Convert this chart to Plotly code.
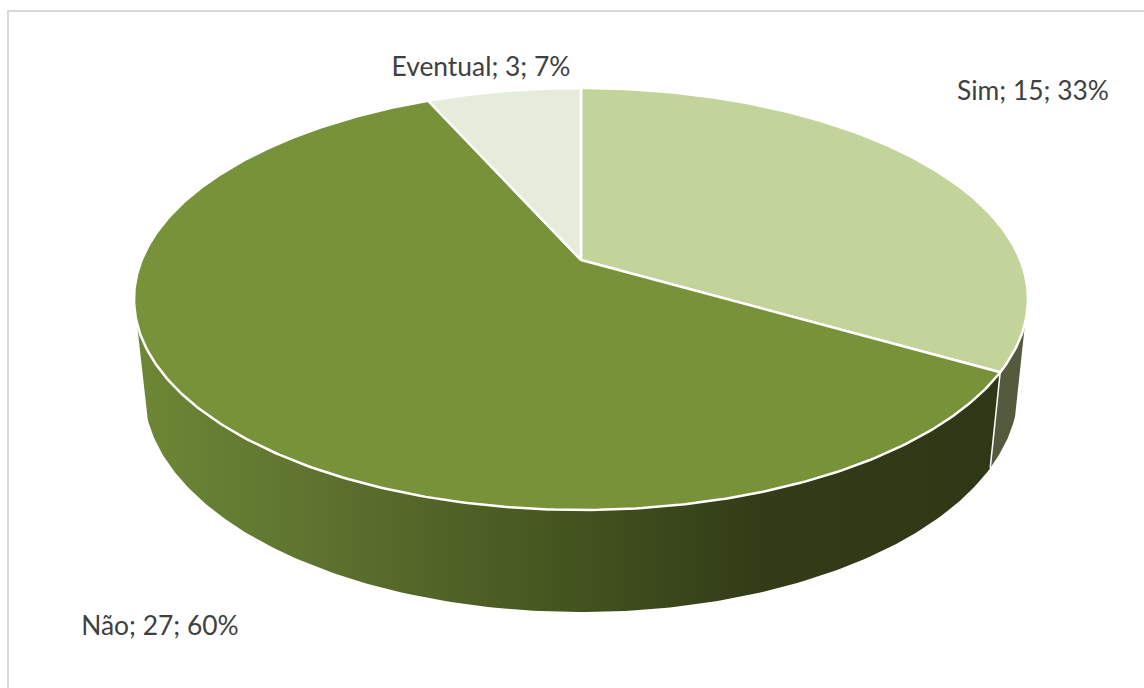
import numpy as np
import plotly.graph_objects as go

categories = ["Sim", "Não", "Eventual"]
values = [15, 27, 3]
percent_labels = [33, 60, 7]

top_colors = ["#c3d49a", "#789239", "#e5ecda"]
sim_wall_color = "#535a3d"
nao_wall_scale = [[0.0, "#6d8735"], [0.19, "#5f7530"], [0.5, "#44541f"], [0.72, "#323c17"], [1.0, "#2e3816"]]

label_x = [1033, 160, 481]
label_y = [93, 628, 69]

W, H = 1144, 688
CX = 581.0
TOP = dict(a=439.3, b=203.8, k=0.1848, y0=260.0)
BOTTOM = dict(a=430.0, b=214.8, k=0.18, y0=350.1)
SILHOUETTE = 73.0


def project(theta_deg, p):
    t = np.radians(np.asarray(theta_deg, dtype=float))
    u, v = np.sin(t), np.cos(t)
    d = 1 + p["k"] * v
    return CX + p["a"] * u / d, p["y0"] - p["b"] * v / d


def wall(a0, a1):
    th = np.linspace(a0, a1, 160)
    xt, yt = project(th, TOP)
    xb, yb = project(th[::-1], BOTTOM)
    return np.r_[xt, xb, xt[0]], np.r_[yt, yb, yt[0]]


total = sum(values)
edges = np.cumsum([0] + values) / total * 360.0

fig = go.Figure()

# side walls
x, y = wall(180 - SILHOUETTE, edges[1])
fig.add_trace(go.Scatter(x=x, y=y, mode="lines", fill="toself", fillcolor=sim_wall_color,
                         line=dict(width=0), hoverinfo="skip", showlegend=False))
x, y = wall(edges[1], 180 + SILHOUETTE)
fig.add_trace(go.Scatter(x=x, y=y, mode="lines", fill="toself",
                         fillgradient=dict(type="horizontal", colorscale=nao_wall_scale,
                                           start=float(x.min()), stop=float(x.max())),
                         line=dict(width=0), hoverinfo="skip", showlegend=False))
# seam between the walls
sx0, sy0 = project([edges[1]], TOP)
sx1, sy1 = project([edges[1]], BOTTOM)
fig.add_trace(go.Scatter(x=[sx0[0], sx1[0]], y=[sy0[0], sy1[0]], mode="lines",
                         line=dict(color="white", width=1.5), hoverinfo="skip", showlegend=False))

# top slices
ox, oy = project([0], {**TOP, "a": 0, "b": 0})
for i, cat in enumerate(categories):
    th = np.linspace(edges[i], edges[i + 1], max(int(values[i] * 12), 30))
    xt, yt = project(th, TOP)
    fig.add_trace(go.Scatter(x=np.r_[ox, xt, ox], y=np.r_[oy, yt, oy], mode="lines", fill="toself",
                             fillcolor=top_colors[i], line=dict(color="white", width=2.5),
                             name=cat, hoverinfo="name", showlegend=False))

# labels
fig.add_trace(go.Scatter(
    x=label_x, y=label_y, mode="text",
    text=[f"{c}; {v}; {p}%" for c, v, p in zip(categories, values, percent_labels)],
    textposition="middle center",
    textfont=dict(family="Lato", size=26.4, color="#404040"),
    hoverinfo="skip", showlegend=False))

fig.update_layout(
    width=W, height=H, margin=dict(l=0, r=0, t=0, b=0),
    paper_bgcolor="white", plot_bgcolor="white",
    xaxis=dict(range=[0, W], visible=False, fixedrange=True),
    yaxis=dict(range=[H, 0], visible=False, fixedrange=True),
    shapes=[dict(type="path", path=f"M 8 {H} L 8 11 L {W} 11", xref="x", yref="y",
                 line=dict(color="#d9d9d9", width=2))],
)
fig.write_html("out.html", config={"displayModeBar": False},
               post_script="document.body.style.margin='0';document.body.style.overflow='hidden';")
